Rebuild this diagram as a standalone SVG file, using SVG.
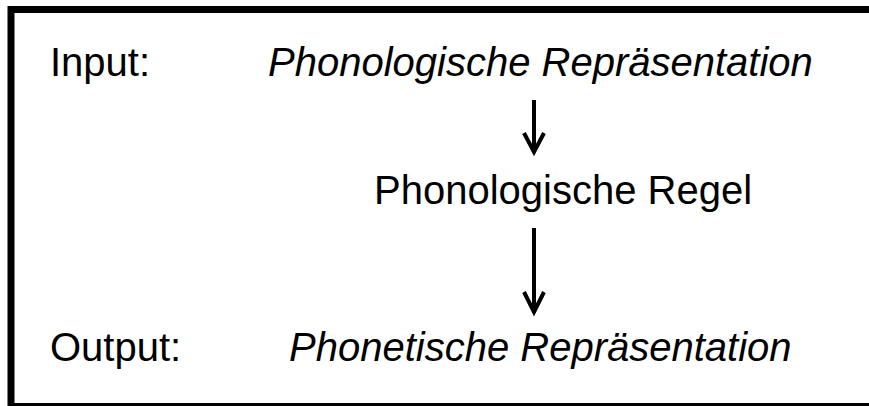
<svg xmlns="http://www.w3.org/2000/svg" width="869" height="406" viewBox="0 0 869 406">
<style>
.t{font-family:"Liberation Sans",Arial,sans-serif;font-size:40px;fill:#000}
.i{font-style:italic}
.arr{fill:none;stroke:#000;stroke-width:4}
.frame{fill:none;stroke:#000}
</style>
<rect x="0" y="0" width="869" height="406" fill="#fff"/>
<g id="frame">
<path class="frame" stroke-width="7" d="M11,406 V9.5 H869"/>
<path class="frame" stroke-width="3" d="M11,404.5 H869"/>
</g>
<g id="input-label"><text class="t" x="50" y="76">Input:</text></g>
<g id="input"><text class="t i" x="268" y="76">Phonologische Repräsentation</text></g>
<g id="rule"><text class="t" x="374" y="204">Phonologische Regel</text></g>
<g id="output-label"><text class="t" x="50" y="361">Output:</text></g>
<g id="output"><text class="t i" x="289" y="361">Phonetische Repräsentation</text></g>
<g id="connectors">
<line class="arr" x1="534" y1="100" x2="534" y2="151"/>
<polyline class="arr" points="524,133 534,152 544,133"/>
<line class="arr" x1="534" y1="228" x2="534" y2="311"/>
<polyline class="arr" points="524,292 534,312 544,292"/>
</g>
</svg>
